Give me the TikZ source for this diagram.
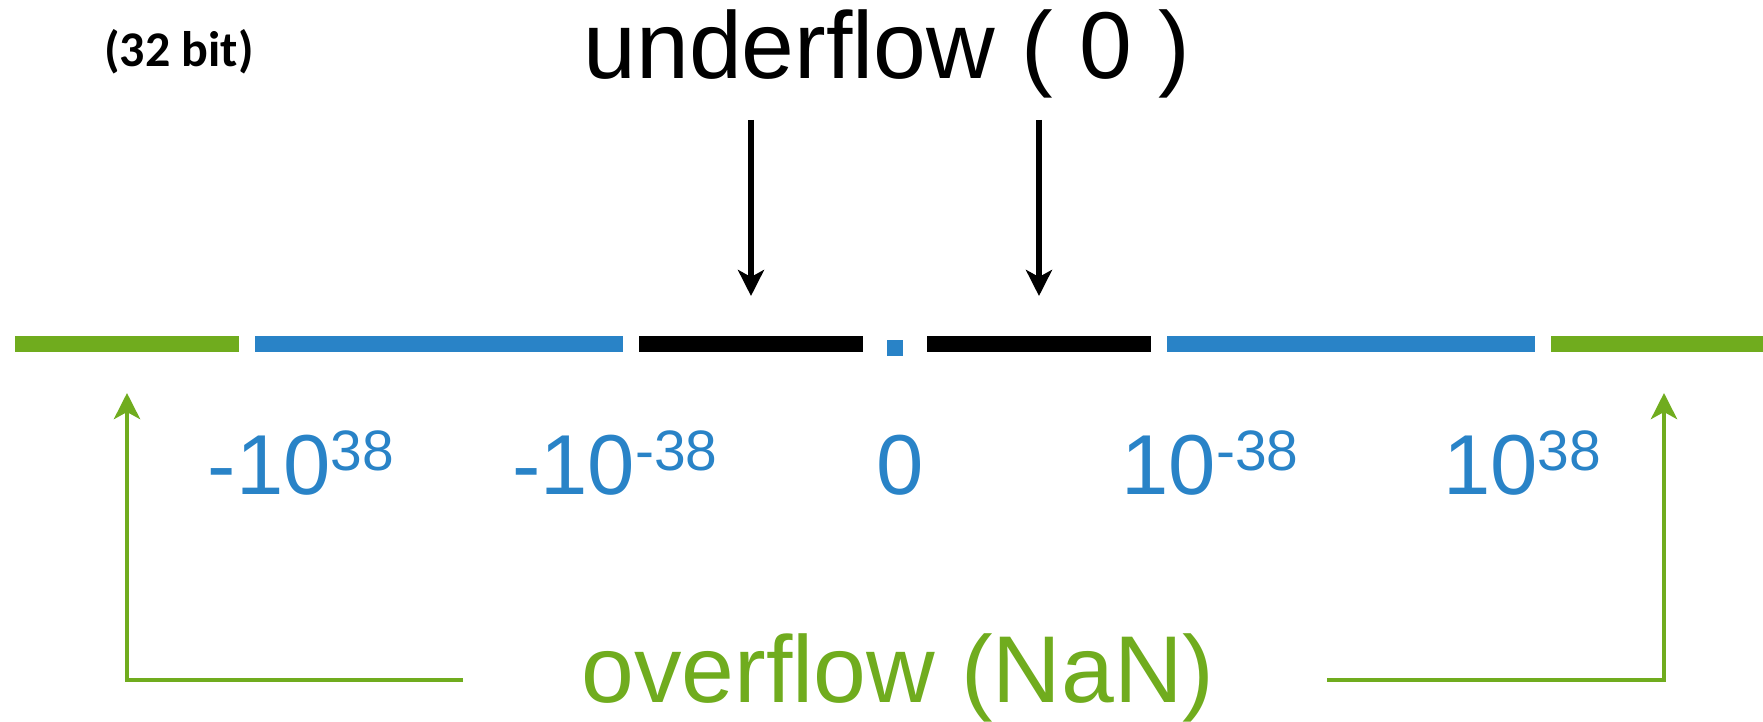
\documentclass[tikz,border=0pt]{standalone}
\usepackage{fontspec}
\setmainfont{Liberation Sans}
\newfontfamily\bitfont{Carlito}
\usetikzlibrary{arrows.meta}
\definecolor{ovgreen}{RGB}{112,172,30}
\definecolor{numblue}{RGB}{41,131,199}
\newcommand{\expo}[1]{\raisebox{7.1pt}{\fontsize{16.2}{18}\selectfont #1}}
\tikzset{
  bigtext/.style={inner sep=0pt, anchor=base, font=\fontsize{27}{30}\selectfont},
  numtext/.style={inner sep=0pt, anchor=base, text=numblue, font=\fontsize{24.2}{28}\selectfont},
  underarrow/.style={line width=1.45pt, -{Stealth[length=7.4pt,width=7.4pt,inset=2pt]}},
  overline/.style={ovgreen, line width=1.4pt, -{Stealth[length=7.4pt,width=7.4pt,inset=2pt]}}
}

\begin{document}
\begin{tikzpicture}[x=0.01cm, y=-0.01cm]
            \useasboundingbox (0, 0) rectangle (1763, 722);

            % number line
            \fill[ovgreen] (15, 336) rectangle (239, 352);
            \fill[numblue] (255, 336) rectangle (623, 352);
            \fill[black] (639, 336) rectangle (863, 352);
            \fill[numblue] (887, 340) rectangle (903, 356);
            \fill[black] (927, 336) rectangle (1151, 352);
            \fill[numblue] (1167, 336) rectangle (1535, 352);
            \fill[ovgreen] (1551, 336) rectangle (1763, 352);

            \node[inner sep=0pt, anchor=base, font=\bitfont\bfseries\fontsize{14.2}{16}\selectfont] (bits) at (179, 67) {(32 bit)};
            \node[bigtext] (under) at (887, 79) {underflow ( 0 )};

            \node[numtext] (negbig) at (301, 495) {-10\expo{38}};
            \node[numtext] (negsmall) at (615, 495) {-10\expo{-38}};
            \node[numtext] (zero) at (900, 495) {0};
            \node[numtext] (possmall) at (1210, 495) {10\expo{-38}};
            \node[numtext] (posbig) at (1522, 495) {10\expo{38}};

            \node[bigtext, text=ovgreen] (over) at (898, 703) {overflow (NaN)};

            % underflow arrows
            \coordinate (ul-top) at (751, 120);
            \coordinate (ul-tip) at (751, 296);
            \coordinate (ur-top) at (1039, 120);
            \coordinate (ur-tip) at (1039, 296);
            \draw[underarrow] (ul-top) -- (ul-tip);
            \draw[underarrow] (ur-top) -- (ur-tip);

            % overflow arrows
            \coordinate (ol-end) at (463, 680);
            \coordinate (ol-tip) at (127, 393);
            \coordinate (or-end) at (1327, 680);
            \coordinate (or-tip) at (1664, 393);
            \draw[overline] (ol-end) -| (ol-tip);
            \draw[overline] (or-end) -| (or-tip);
        \end{tikzpicture}
\end{document}
